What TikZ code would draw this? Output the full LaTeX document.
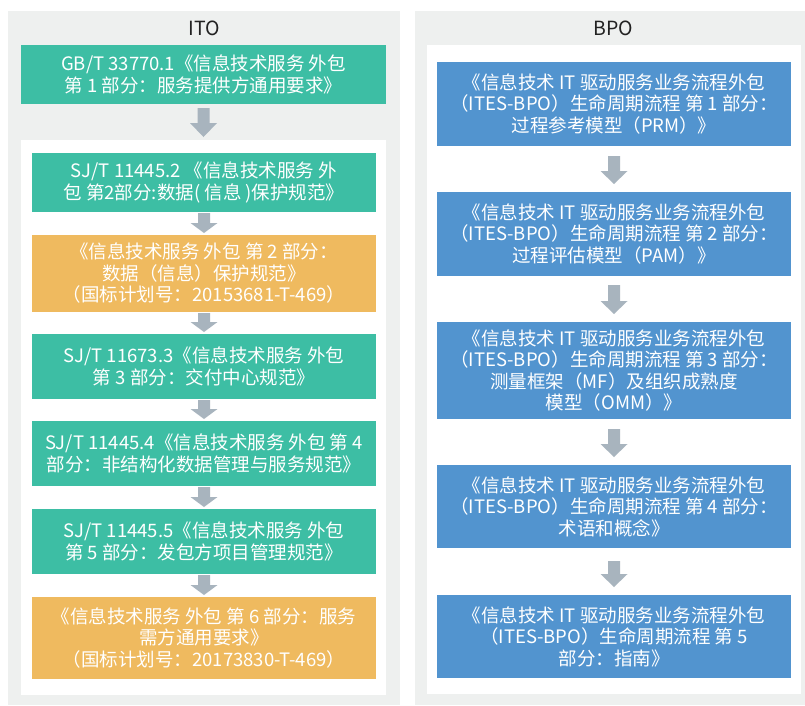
\documentclass[tikz,border=0pt]{standalone}
\usepackage{fontspec}
\setmainfont{Noto Sans CJK SC}
\usetikzlibrary{calc}
\definecolor{teal1}{HTML}{3DBEA4}
\definecolor{orng}{HTML}{EFBA5F}
\definecolor{blu}{HTML}{5294CF}
\definecolor{panelgrey}{HTML}{EEF0EF}
\definecolor{arrowgrey}{HTML}{A8B4BE}
\definecolor{titlec}{HTML}{222222}
\tikzset{
  panel/.style={fill=panelgrey, draw=none, inner sep=0pt, outer sep=0pt},
  inner/.style={fill=white, draw=none, inner sep=0pt, outer sep=0pt},
  box/.style={draw=none, inner sep=0pt, outer sep=0pt, align=center, text=white,
    font=\fontsize{18.5}{21.5}\selectfont},
  tealbox/.style={box, fill=teal1},
  orangebox/.style={box, fill=orng},
  bluebox/.style={box, fill=blu},
  ttl/.style={text=titlec, font=\fontsize{19.5}{22}\selectfont},
  arrowfill/.style={fill=arrowgrey, draw=none}
}
% #1 upper node, #2 lower node, #3 top gap, #4 bottom gap, #5 head length
\newcommand{\dnarrow}[5]{%
  \path let \p1=(#1.south), \p2=(#2.north) in
    [arrowfill] (\x1-6pt,\y1-#3pt) -- (\x1+6pt,\y1-#3pt)
    -- (\x1+6pt,\y2+#4pt+#5pt) -- (\x1+13.5pt,\y2+#4pt+#5pt)
    -- (\x1,\y2+#4pt) -- (\x1-13.5pt,\y2+#4pt+#5pt)
    -- (\x1-6pt,\y2+#4pt+#5pt) -- cycle;}
\begin{document}
\begin{tikzpicture}[x=1pt,y=-1pt]
\useasboundingbox (0,0) rectangle (805,705);
% panels
\node[panel, minimum width=392pt, minimum height=694pt, anchor=north west] (lpanel) at (8,11) {};
\node[panel, minimum width=390pt, minimum height=694pt, anchor=north west] (rpanel) at (415,11) {};
\node[inner, minimum width=365pt, minimum height=555pt, anchor=north west] (lwhite) at (21,140) {};
\node[inner, minimum width=374pt, minimum height=649pt, anchor=north west] (rwhite) at (427,45) {};
\node[ttl] (ito) at (204,28) {ITO};
\node[ttl] (bpo) at (613,28) {BPO};
% ITO boxes
\node[tealbox, minimum width=365pt, minimum height=59pt] (l1) at (203.5,74.5)
  {GB/T 33770.1《信息技术服务 外包\\第 1 部分：服务提供方通用要求》};
\node[tealbox, minimum width=344pt, minimum height=59pt] (l2) at (204,182.5)
  {SJ/T 11445.2 《信息技术服务 外\\包 第2部分:数据( 信息 )保护规范》};
\node[orangebox, minimum width=344pt, minimum height=77pt] (l3) at (204,273.5)
  {《信息技术服务 外包 第 2 部分：\\数据（信息）保护规范》\\（国标计划号：20153681-T-469）};
\node[tealbox, minimum width=344pt, minimum height=65pt] (l4) at (204,366.5)
  {SJ/T 11673.3《信息技术服务 外包\\第 3 部分：交付中心规范》};
\node[tealbox, minimum width=344pt, minimum height=65pt] (l5) at (204,453.5)
  {SJ/T 11445.4《信息技术服务 外包 第 4\\部分：非结构化数据管理与服务规范》};
\node[tealbox, minimum width=344pt, minimum height=65pt] (l6) at (204,541.5)
  {SJ/T 11445.5《信息技术服务 外包\\第 5 部分：发包方项目管理规范》};
\node[orangebox, minimum width=344pt, minimum height=82pt] (l7) at (204,638)
  {《信息技术服务 外包 第 6 部分：服务\\需方通用要求》\\（国标计划号：20173830-T-469）};
% BPO boxes
\node[bluebox, minimum width=354pt, minimum height=84pt] (r1) at (614,104)
  {《信息技术 IT 驱动服务业务流程外包\\（ITES-BPO）生命周期流程 第 1 部分：\\过程参考模型（PRM）》};
\node[bluebox, minimum width=354pt, minimum height=84pt] (r2) at (614,234)
  {《信息技术 IT 驱动服务业务流程外包\\（ITES-BPO）生命周期流程 第 2 部分：\\过程评估模型（PAM）》};
\node[bluebox, minimum width=354pt, minimum height=97pt] (r3) at (614,370.5)
  {《信息技术 IT 驱动服务业务流程外包\\（ITES-BPO）生命周期流程 第 3 部分：\\测量框架（MF）及组织成熟度\\模型（OMM）》};
\node[bluebox, minimum width=354pt, minimum height=83pt] (r4) at (614,506.5)
  {《信息技术 IT 驱动服务业务流程外包\\（ITES-BPO）生命周期流程 第 4 部分：\\术语和概念》};
\node[bluebox, minimum width=354pt, minimum height=83pt] (r5) at (614,636.5)
  {《信息技术 IT 驱动服务业务流程外包\\（ITES-BPO）生命周期流程 第 5\\部分：指南》};
% arrows
\dnarrow{l1}{lwhite}{4}{3}{14}
\dnarrow{l2}{l3}{1}{2}{10}
\dnarrow{l3}{l4}{1}{2}{10}
\dnarrow{l4}{l5}{1}{2}{10}
\dnarrow{l5}{l6}{1}{2}{10}
\dnarrow{l6}{l7}{1}{2}{10}
\dnarrow{r1}{r2}{10}{8}{13}
\dnarrow{r2}{r3}{9}{8}{13}
\dnarrow{r3}{r4}{10}{8}{13}
\dnarrow{r4}{r5}{13}{8}{13}
\end{tikzpicture}
\end{document}
